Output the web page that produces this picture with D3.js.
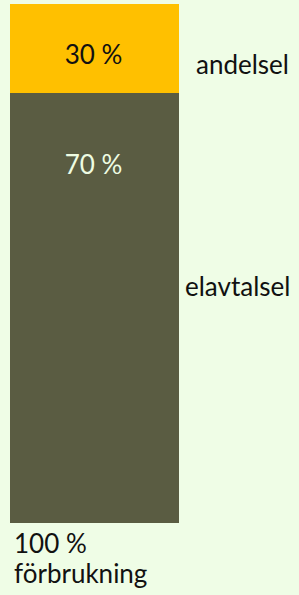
<!DOCTYPE html>
<html>
<head>
<meta charset="utf-8">
<script src="https://cdn.jsdelivr.net/npm/d3@7"></script>
<style>
  html, body { margin: 0; padding: 0; background: #effde6; }
  svg { display: block; }
</style>
</head>
<body>
<div id="chart"></div>
<script>
// Data
const segments = ["andelsel", "elavtalsel"];
const shares = [30, 70];
const shareLabels = ["30 %", "70 %"];
const totalLabel = ["100 %", "förbrukning"];

const width = 299;
const height = 595;
const font = "Lato, 'Open Sans', sans-serif";

const svg = d3.select("#chart")
  .append("svg")
  .attr("width", width)
  .attr("height", height);

svg.append("rect")
  .attr("width", width)
  .attr("height", height)
  .attr("fill", "#effde6");

// cumulative positions
const stack = [];
let acc = 0;
shares.forEach((v, i) => {
  stack.push({ name: segments[i], label: shareLabels[i], y0: acc, y1: acc + v });
  acc += v;
});

// the original is not drawn to scale: first segment is compressed
const y = d3.scaleLinear()
  .domain([0, shares[0], acc])
  .range([4, 93, 523]);

const x = d3.scaleBand()
  .domain(["total"])
  .range([10, 179])
  .padding(0);

const colors = d3.scaleOrdinal()
  .domain(segments)
  .range(["#ffc000", "#5a5c42"]);

const textColors = d3.scaleOrdinal()
  .domain(segments)
  .range(["#111111", "#eefce2"]);

svg.selectAll(".seg")
  .data(stack)
  .enter()
  .append("rect")
  .attr("class", "seg")
  .attr("x", x("total"))
  .attr("width", x.bandwidth())
  .attr("y", d => y(d.y0))
  .attr("height", d => y(d.y1) - y(d.y0))
  .attr("fill", d => colors(d.name));

// value labels inside bar
const labelOffset = [60, 81];
svg.selectAll(".val")
  .data(stack)
  .enter()
  .append("text")
  .attr("class", "val")
  .attr("x", x("total") + x.bandwidth() / 2 - 1)
  .attr("y", (d, i) => y(d.y0) + labelOffset[i])
  .attr("text-anchor", "middle")
  .attr("font-family", font)
  .attr("font-size", "26px")
  .attr("fill", d => textColors(d.name))
  .text(d => d.label);

// segment names on the right
const nameY = [74, 296];
svg.selectAll(".name")
  .data(stack)
  .enter()
  .append("text")
  .attr("class", "name")
  .attr("x", (d, i) => i === 0 ? 196 : 185)
  .attr("y", (d, i) => nameY[i])
  .attr("font-family", font)
  .attr("font-size", "26px")
  .attr("fill", "#111111")
  .text(d => d.name);

// total label under the bar
svg.selectAll(".total")
  .data(totalLabel)
  .enter()
  .append("text")
  .attr("class", "total")
  .attr("x", 14)
  .attr("y", (d, i) => 553 + i * 30)
  .attr("font-family", font)
  .attr("font-size", "26px")
  .attr("fill", "#111111")
  .text(d => d);
</script>
</body>
</html>
